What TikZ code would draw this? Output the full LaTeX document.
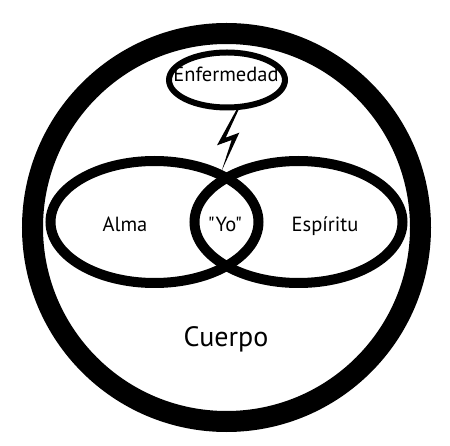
\documentclass[tikz,border=0pt]{standalone}
\usepackage{fontspec}
\setmainfont{PT Sans}
\newfontfamily\rawfont{PT Sans}[Ligatures=TeXOff]
\usepackage{tikz}
\usetikzlibrary{positioning}

\begin{document}
\begin{tikzpicture}[
  x=1pt, y=-1pt,
  ring/.style={draw, line width=21pt},
  lobe/.style={draw, line width=10pt},
  cloud/.style={draw, line width=6pt},
  lbl/.style={anchor=base, inner sep=0pt, font=\rawfont\fontsize{20.5}{22}\selectfont},
  big/.style={anchor=base, inner sep=0pt, font=\rawfont\fontsize{28}{30}\selectfont},
]
  \useasboundingbox (0,0) rectangle (450,446);

  \coordinate (mid) at (226.5,227.5);
  \coordinate (alma) at (154.5,222);
  \coordinate (esp) at (298.5,222);
  \coordinate (enf) at (227,80);

  % body, soul and spirit
  \draw[ring] (mid) circle (194);
  \draw[lobe] (alma) ellipse [x radius=104, y radius=61];
  \draw[lobe] (esp) ellipse [x radius=104, y radius=61];
  \draw[cloud] (enf) ellipse [x radius=58, y radius=27.5];

  % lightning
  \fill (236.3,110) -- (217,145.3) -- (231.7,140) -- (221.7,170.7)
    -- (239.3,132.7) -- (225.7,137.7) -- (238.5,110) -- cycle;

  \node[lbl] (tenf) at (226,82) {Enfermedad};
  \node[lbl] (talma) at (125,232) {Alma};
  \node[lbl] (tyo) at (225,232) {"Yo"};
  \node[lbl] (tesp) at (325,232) {Espíritu};
  \node[big] (tcuerpo) at (226,347) {Cuerpo};
\end{tikzpicture}
\end{document}
